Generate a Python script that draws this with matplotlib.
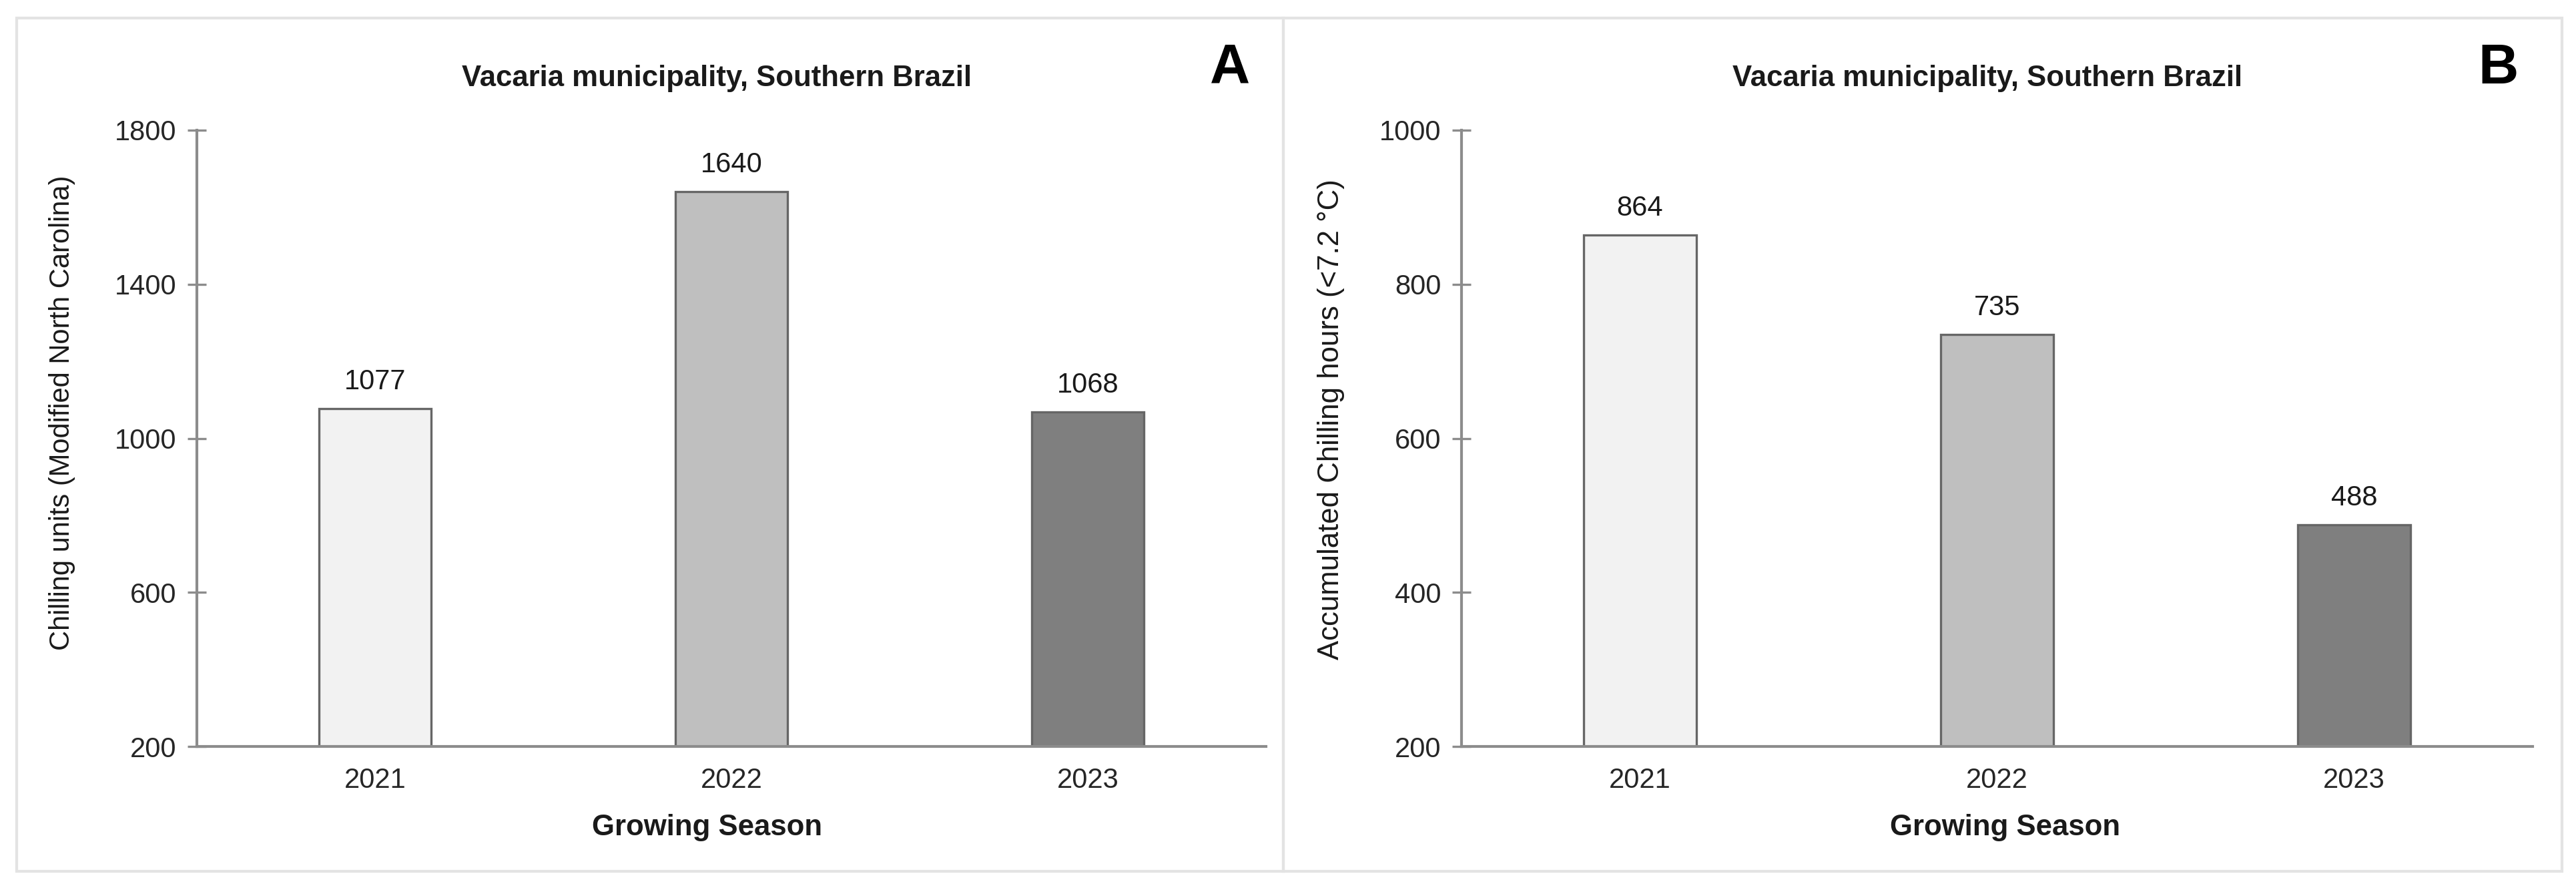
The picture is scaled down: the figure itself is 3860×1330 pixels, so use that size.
import matplotlib
matplotlib.use("Agg")
import matplotlib.pyplot as plt
from matplotlib.patches import Rectangle
import numpy as np

plt.rcParams['font.family'] = ['Liberation Sans', 'DejaVu Sans']

# data
seasons = ["2021", "2022", "2023"]
chill_units = [1077, 1640, 1068]
chill_hours = [864, 735, 488]
bar_colors = ["#F2F2F2", "#BFBFBF", "#7F7F7F"]

title_txt = "Vacaria municipality, Southern Brazil"
xlab = "Growing Season"
ylab_a = "Chilling units (Modified North Carolina)"
ylab_b = "Accumulated Chilling hours (<7.2 \u00b0C)"

W, H = 3861, 1330
DPI = 300
fig = plt.figure(figsize=(W / DPI, H / DPI), dpi=DPI)
fig.patch.set_facecolor("white")


def px(x, y):
    # pixel coords (top-left origin) -> figure fraction
    return x / W, 1 - y / H


def panel(left_px, right_px, vals, ylim, yticks, ylab, ylab_x, ylab_y, ylab_fs,
          title_x, letter, letter_x, xlab_x):
    l, _ = px(left_px, 0)
    r, _ = px(right_px, 0)
    _, b = px(0, 1118)
    _, t = px(0, 195)
    ax = fig.add_axes([l, b, r - l, t - b])
    x = np.arange(len(seasons))
    bars = ax.bar(x, vals, width=0.315, bottom=0, color=bar_colors,
                  edgecolor="#666666", linewidth=0.8, zorder=2)
    ax.set_xlim(-0.5, 2.5)
    ax.set_ylim(*ylim)
    ax.set_yticks(yticks)
    ax.set_xticks(x)
    ax.set_xticklabels(seasons)
    for s in ["top", "right"]:
        ax.spines[s].set_visible(False)
    for s in ["left", "bottom"]:
        ax.spines[s].set_color("#8C8C8C")
        ax.spines[s].set_linewidth(1.0)
    ax.spines["bottom"].set_zorder(3)
    ax.tick_params(axis="y", direction="inout", length=6.5, width=0.8,
                   color="#8C8C8C", labelsize=10, labelcolor="#262626", pad=4)
    ax.tick_params(axis="x", length=0, labelsize=10, labelcolor="#262626", pad=7.5)
    for rect, v in zip(bars, vals):
        ax.annotate(str(v), (rect.get_x() + rect.get_width() / 2, v),
                    xytext=(0, 7), textcoords="offset points",
                    ha="center", va="baseline", fontsize=10, color="#1A1A1A")
    fig.text(*px(ylab_x, ylab_y), ylab, rotation=90, ha="center", va="center",
             fontsize=ylab_fs, color="#1A1A1A")
    fig.text(*px(title_x, 118), title_txt, ha="center", va="center",
             fontsize=10.5, fontweight="bold", color="#1A1A1A")
    fig.text(*px(letter_x, 103), letter, ha="center", va="center",
             fontsize=20, fontweight="bold", color="black")
    fig.text(*px(xlab_x, 1240), xlab, ha="center", va="center",
             fontsize=10.5, fontweight="bold", color="#1A1A1A")
    return ax


panel(295, 1897, chill_units, (200, 1800), [200, 600, 1000, 1400, 1800],
      ylab_a, 93, 618, 10, 1074, "A", 1843, 1060)
panel(2190, 3795, chill_hours, (200, 1000), [200, 400, 600, 800, 1000],
      ylab_b, 1995, 628, 10.5, 2978, "B", 3744, 3005)

# light grey panel frames
for x0, x1 in [(25, 1923), (1923, 3839)]:
    l, b = px(x0, 1305)
    r, t = px(x1, 27)
    fig.patches.append(Rectangle((l, b), r - l, t - b, transform=fig.transFigure,
                                 fill=False, edgecolor="#E3E3E3", linewidth=1.0))

fig.savefig("out.png", dpi=DPI, facecolor="white")
